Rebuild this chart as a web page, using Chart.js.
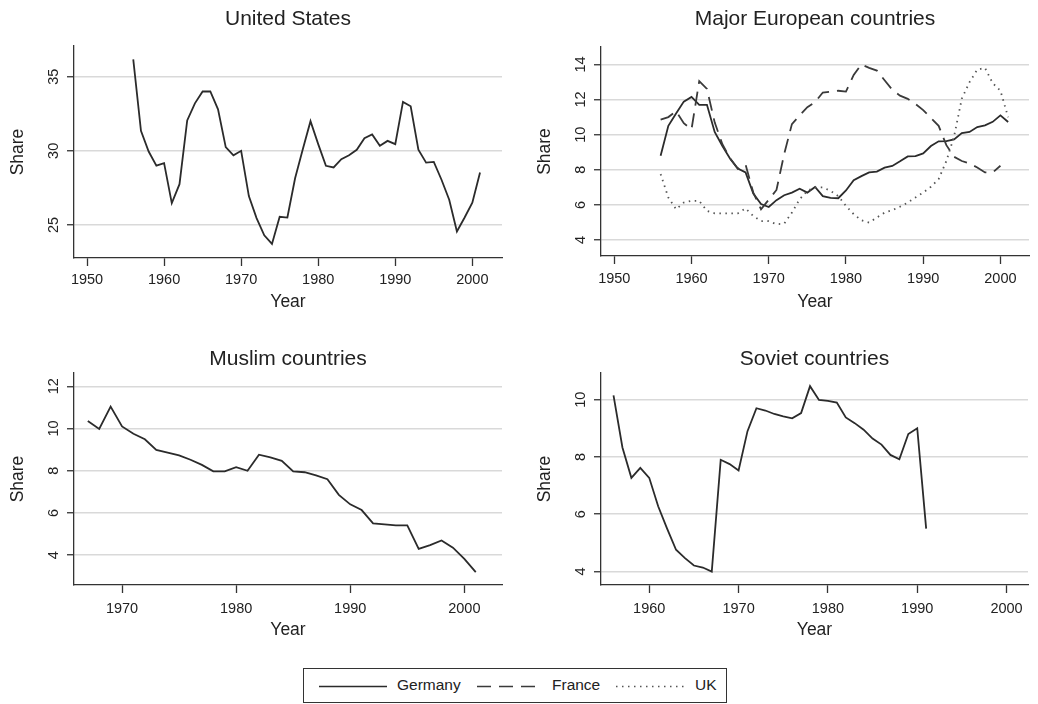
<!DOCTYPE html>
<html><head><meta charset="utf-8">
<script src="https://cdn.jsdelivr.net/npm/chart.js@4.4.1/dist/chart.umd.min.js"></script>
<style>
html,body{margin:0;padding:0;background:#fff}
body{width:1038px;height:704px;overflow:hidden;position:relative;font-family:'Liberation Sans',Arial,Helvetica,sans-serif;color:#222}
.panel{position:absolute}
#legend{position:absolute;left:303px;top:668px;width:424px;height:35px;border:1px solid #333;box-sizing:border-box}
#legend svg{position:absolute;left:0;top:0}
#legend span{position:absolute;top:7px;font-size:15.5px;line-height:18px;white-space:nowrap}
</style></head><body>
<div class="panel" style="left:0;top:0"><canvas id="c1" width="519" height="320"></canvas></div>
<div class="panel" style="left:527px;top:0"><canvas id="c2" width="511" height="320"></canvas></div>
<div class="panel" style="left:0;top:320px"><canvas id="c3" width="519" height="320"></canvas></div>
<div class="panel" style="left:527px;top:320px"><canvas id="c4" width="511" height="320"></canvas></div>
<div id="legend">
<svg width="424" height="35">
<line x1="15" y1="17.5" x2="83" y2="17.5" stroke="#2b2b2b" stroke-width="1.6"/>
<line x1="173" y1="17.5" x2="237" y2="17.5" stroke="#3a3a3a" stroke-width="1.6" stroke-dasharray="14 8"/>
<line x1="312" y1="17.5" x2="380" y2="17.5" stroke="#555" stroke-width="1.6" stroke-dasharray="1.5 4.5"/>
</svg>
<span style="left:93px">Germany</span>
<span style="left:248px">France</span>
<span style="left:391px">UK</span>
</div>
<script>
// ---------- data ----------
const usYears = [1956,1957,1958,1959,1960,1961,1962,1963,1964,1965,1966,1967,1968,1969,1970,1971,1972,1973,1974,1975,1976,1977,1978,1979,1980,1981,1982,1983,1984,1985,1986,1987,1988,1989,1990,1991,1992,1993,1994,1995,1996,1997,1998,1999,2000,2001];
const usShare = [36.17,31.35,29.95,29.0,29.17,26.47,27.75,32.05,33.2,34.0,34.0,32.8,30.25,29.7,30.0,26.95,25.46,24.3,23.72,25.55,25.5,28.15,30.1,32.0,30.45,28.99,28.88,29.44,29.7,30.07,30.85,31.1,30.34,30.67,30.45,33.3,33.0,30.07,29.2,29.25,28.05,26.7,24.56,25.5,26.5,28.54];

const euYears = [1956,1957,1958,1959,1960,1961,1962,1963,1964,1965,1966,1967,1968,1969,1970,1971,1972,1973,1974,1975,1976,1977,1978,1979,1980,1981,1982,1983,1984,1985,1986,1987,1988,1989,1990,1991,1992,1993,1994,1995,1996,1997,1998,1999,2000,2001];
const germany = [8.8,10.5,11.2,11.88,12.15,11.7,11.7,10.15,9.35,8.63,8.07,7.85,6.65,6.05,5.88,6.27,6.55,6.7,6.92,6.7,7.02,6.5,6.4,6.38,6.82,7.4,7.64,7.85,7.9,8.12,8.22,8.48,8.76,8.78,8.93,9.35,9.62,9.63,9.73,10.09,10.15,10.43,10.53,10.73,11.1,10.72];
const franceYears = [1956,1957,1958,1959,1960,1961,1962,1963,1964,1965,1966,1967,1968,1969,1970,1971,1972,1973,1974,1975,1976,1977,1978,1979,1980,1981,1982,1983,1984,1985,1986,1987,1988,1989,1990,1991,1992,1993,1994,1995,1996,1997,1998,1999,2000];
const france = [10.86,11.0,11.33,10.65,10.3,13.05,12.6,10.7,9.45,8.65,8.05,8.3,6.7,5.75,6.3,6.85,8.9,10.6,11.1,11.56,11.85,12.4,12.45,12.5,12.45,13.4,14.0,13.8,13.65,13.1,12.55,12.22,12.04,11.75,11.4,10.95,10.5,9.4,8.74,8.5,8.36,8.13,7.85,7.85,8.23];
const uk = [7.75,6.42,5.75,6.13,6.23,6.23,5.66,5.52,5.52,5.52,5.52,5.8,5.37,5.08,5.08,4.9,4.93,5.56,6.32,6.8,7.0,7.0,6.8,6.5,5.94,5.47,5.12,4.99,5.28,5.56,5.7,5.9,6.13,6.42,6.7,7.03,7.47,8.5,9.9,12.05,12.99,13.7,13.8,12.93,12.5,10.99];

const muYears = [1967,1968,1969,1970,1971,1972,1973,1974,1975,1976,1977,1978,1979,1980,1981,1982,1983,1984,1985,1986,1987,1988,1989,1990,1991,1992,1993,1994,1995,1996,1997,1998,1999,2000,2001];
const muslim = [10.36,9.98,11.04,10.1,9.75,9.49,8.99,8.86,8.73,8.52,8.28,7.97,7.97,8.17,8.0,8.76,8.63,8.47,7.97,7.93,7.78,7.6,6.86,6.41,6.14,5.51,5.46,5.41,5.41,4.3,4.48,4.7,4.36,3.83,3.2];

const soYears = [1956,1957,1958,1959,1960,1961,1962,1963,1964,1965,1966,1967,1968,1969,1970,1971,1972,1973,1974,1975,1976,1977,1978,1979,1980,1981,1982,1983,1984,1985,1986,1987,1988,1989,1990,1991];
const soviet = [10.15,8.33,7.27,7.62,7.27,6.28,5.5,4.76,4.47,4.21,4.14,4.0,7.9,7.75,7.53,8.9,9.7,9.62,9.5,9.42,9.35,9.53,10.47,9.99,9.96,9.9,9.38,9.18,8.95,8.64,8.43,8.07,7.92,8.8,9.0,5.5];

const xTicksA = [1950,1960,1970,1980,1990,2000];
const xTicksMu = [1970,1980,1990,2000];
const xTicksSo = [1960,1970,1980,1990,2000];
const yTicksUS = [25,30,35];
const yTicksEU = [4,6,8,10,12,14];
const yTicksMu = [4,6,8,10,12];
const yTicksSo = [4,6,8,10];

// ---------- drawing ----------
const FAM = "'Liberation Sans', Arial, Helvetica, sans-serif";
Chart.defaults.font.family = FAM;
Chart.defaults.color = '#222';

function pts(xs, ys){ return xs.map((x,i)=>({x:x, y:ys[i]})); }
function ds(label, xs, ys, color, dash, width, cap){
  return {label, data: pts(xs, ys), borderColor: color, borderWidth: width||1.8, borderDash: dash||[],
    borderCapStyle: cap||'butt', pointRadius: 0, tension: 0, fill: false};
}

function makeChart(id, p){
  const TS = 21, TLH = TS*1.2, AS = 17.5, ALH = AS*1.2;
  const padTop = p.tC - p.y0 - TLH/2;
  new Chart(document.getElementById(id), {
    type: 'line',
    data: { datasets: p.datasets },
    options: {
      responsive: false, animation: false, devicePixelRatio: 1,
      layout: { padding: { left: 0, right: p.w - (p.R - p.x0), top: 0, bottom: 0 } },
      plugins: {
        legend: { display: false }, tooltip: { enabled: false },
        title: { display: true, text: p.title, fullSize: false, color: '#222',
          font: { size: TS, weight: 'normal' },
          padding: { top: padTop, bottom: (p.T - p.y0) - padTop - TLH } }
      },
      scales: {
        x: {
          type: 'linear', min: p.xmin, max: p.xmax,
          afterBuildTicks: s => { s.ticks = p.xticks.map(v => ({ value: v })); },
          afterFit: s => { s.height = p.y0 + p.h - p.B; },
          grid: { display: true, drawOnChartArea: false, drawTicks: true, tickLength: 8, tickColor: '#333', tickWidth: 1.3 },
          border: { display: true, color: '#333', width: 1.3 },
          ticks: { color: '#222', font: { size: 14.5 }, padding: p.xpad, maxRotation: 0, autoSkip: false, callback: v => String(v) },
          title: { display: true, text: 'Year', color: '#222', font: { size: AS },
            padding: { top: 0, bottom: (p.y0 + p.h - p.yC) - ALH/2 } }
        },
        y: {
          type: 'linear', min: p.ymin, max: p.ymax,
          afterBuildTicks: s => { s.ticks = p.yticks.map(v => ({ value: v })); },
          afterFit: s => { s.width = p.L - p.x0; },
          grid: { color: '#d9d9d9', lineWidth: 1.5, drawTicks: true, tickLength: 7, tickColor: '#333', tickWidth: 1.3 },
          border: { display: true, color: '#333', width: 1.3 },
          ticks: { color: '#222', font: { size: 14.5 }, padding: 5, minRotation: 90, maxRotation: 90, crossAlign: 'center', autoSkip: false, callback: v => String(v) },
          title: { display: true, text: 'Share', color: '#222', font: { size: AS },
            padding: { top: 18 - ALH/2, bottom: 0 } }
        }
      }
    }
  });
}

makeChart('c1', { title: 'United States', x0: 0, y0: 0, w: 519, h: 320, L: 74, R: 502, T: 46, B: 258, tC: 19, yC: 302, xpad: 5,
  xmin: 1948.31, xmax: 2003.85, ymin: 22.77, ymax: 37.07, xticks: xTicksA, yticks: yTicksUS,
  datasets: [ ds('United States', usYears, usShare, '#2b2b2b') ] });

makeChart('c2', { title: 'Major European countries', x0: 527, y0: 0, w: 511, h: 320, L: 601, R: 1029, T: 47, B: 256, tC: 19, yC: 302, xpad: 6,
  xmin: 1948.28, xmax: 2003.7, ymin: 3.09, ymax: 14.99, xticks: xTicksA, yticks: yTicksEU,
  datasets: [
    ds('UK', euYears, uk, '#555555', [1.5, 4.5], 1.8),
    ds('France', franceYears, france, '#3a3a3a', [14, 8], 1.8),
    ds('Germany', euYears, germany, '#2b2b2b')
  ] });

makeChart('c3', { title: 'Muslim countries', x0: 0, y0: 320, w: 519, h: 320, L: 74, R: 502, T: 373, B: 585, tC: 359, yC: 630, xpad: 7,
  xmin: 1965.79, xmax: 2003.3, ymin: 2.59, ymax: 12.63, xticks: xTicksMu, yticks: yTicksMu,
  datasets: [ ds('Muslim countries', muYears, muslim, '#2b2b2b') ] });

makeChart('c4', { title: 'Soviet countries', x0: 527, y0: 320, w: 511, h: 320, L: 601, R: 1028, T: 373, B: 585, tC: 359, yC: 630, xpad: 7,
  xmin: 1954.6, xmax: 2002.4, ymin: 3.53, ymax: 10.93, xticks: xTicksSo, yticks: yTicksSo,
  datasets: [ ds('Soviet countries', soYears, soviet, '#2b2b2b') ] });
</script>
</body></html>
